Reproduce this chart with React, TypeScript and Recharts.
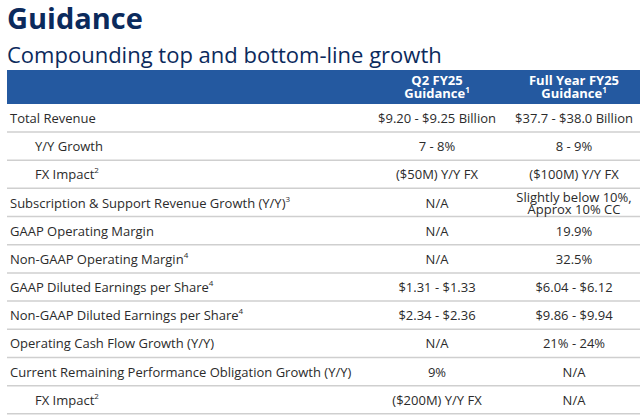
import React from 'react'
import { BarChart, Bar, XAxis, YAxis } from 'recharts'

const rowLabels = [
    'Total Revenue',
    'Y/Y Growth',
    'FX Impact',
    'Subscription & Support Revenue Growth (Y/Y)',
    'GAAP Operating Margin',
    'Non-GAAP Operating Margin',
    'GAAP Diluted Earnings per Share',
    'Non-GAAP Diluted Earnings per Share',
    'Operating Cash Flow Growth (Y/Y)',
    'Current Remaining Performance Obligation Growth (Y/Y)',
    'FX Impact'
]
const rowNotes = ['', '', '2', '3', '', '4', '4', '4', '', '', '2']
const rowIndent = [false, true, true, false, false, false, false, false, false, false, true]
const q2Values = [
    '$9.20 - $9.25 Billion',
    '7 - 8%',
    '($50M) Y/Y FX',
    'N/A',
    'N/A',
    'N/A',
    '$1.31 - $1.33',
    '$2.34 - $2.36',
    'N/A',
    '9%',
    '($200M) Y/Y FX'
]
const fyValues = [
    '$37.7 - $38.0 Billion',
    '8 - 9%',
    '($100M) Y/Y FX',
    'Slightly below 10%,\nApprox 10% CC',
    '19.9%',
    '32.5%',
    '$6.04 - $6.12',
    '$9.86 - $9.94',
    '21% - 24%',
    'N/A',
    'N/A'
]
const columnTitles = [['Q2 FY25', 'Guidance'], ['Full Year FY25', 'Guidance']]

// column widths in px (table spans x = 7 .. 640)
const LABEL_W = 359
const Q2_W = 142
const FY_W = 132

const FONT = '"Open Sans", sans-serif'
const TEXT = '#2b2b2b'
const NAVY = '#0b2a5c'
const HEADER_BG = '#2459a0'

const data = rowLabels.map((label, i) => ({
    label,
    note: rowNotes[i],
    indent: rowIndent[i],
    q2: q2Values[i],
    fy: fyValues[i],
    labelCol: LABEL_W,
    q2Col: Q2_W,
    fyCol: FY_W
}))

const makeCell = (kind: 'label' | 'q2' | 'fy') => (props: any) => {
    const { x, y, width, height, payload } = props
    const cy = y + height / 2
    const bottom = y + height
    let text: React.ReactNode = null
    if (kind === 'label') {
        text = (
            <text x={x + (payload.indent ? 28 : 3)} y={cy} dominantBaseline="central"
                fontFamily={FONT} fontSize={13} fill={TEXT}>
                {payload.label}
                {payload.note && <tspan dy={-5} fontSize={8}>{payload.note}</tspan>}
            </text>
        )
    } else {
        const lines: string[] = String(payload[kind]).split('\n')
        const step = 12
        text = (
            <text x={x + width / 2} textAnchor="middle" fontFamily={FONT} fontSize={13} fill={TEXT}>
                {lines.map((ln, k) => (
                    <tspan key={k} x={x + width / 2} y={cy + (k - (lines.length - 1) / 2) * step}
                        dominantBaseline="central">{ln}</tspan>
                ))}
            </text>
        )
    }
    return (
        <g>
            <line x1={x} x2={x + width} y1={bottom} y2={bottom} stroke="#cfcfcf" strokeWidth={1.5} />
            {text}
        </g>
    )
}

export default function App() {
    return (
        <div style={{ position: 'absolute', left: 0, top: 0, width: 640, height: 418, background: '#fff', fontFamily: FONT }}>
            <div style={{ position: 'absolute', left: 7, top: 0, fontSize: 29, lineHeight: '35px', fontWeight: 700, color: NAVY }}>
                Guidance
            </div>
            <div style={{ position: 'absolute', left: 7, top: 40, fontSize: 22, lineHeight: '28px', color: NAVY, whiteSpace: 'nowrap' }}>
                Compounding top and bottom-line growth
            </div>
            <div style={{ position: 'absolute', left: 7, top: 70, width: 633, height: 34, background: HEADER_BG }} />
            {columnTitles.map((t, i) => {
                const left = 7 + LABEL_W + (i === 0 ? 0 : Q2_W)
                const w = i === 0 ? Q2_W : FY_W
                return (
                    <div key={i} style={{
                        position: 'absolute', left, top: 74, width: w, textAlign: 'center',
                        color: '#fff', fontWeight: 700, fontSize: 13, lineHeight: '13px'
                    }}>
                        <div>{t[0]}</div>
                        <div>{t[1]}<span style={{ fontSize: 8, position: 'relative', top: -5 }}>1</span></div>
                    </div>
                )
            })}
            <div style={{ position: 'absolute', left: 0, top: 0 }}>
                <BarChart width={640} height={418} data={data} layout="vertical"
                    margin={{ top: 104, right: 0, bottom: 4, left: 7 }} barCategoryGap={0}>
                    <XAxis type="number" hide domain={[0, LABEL_W + Q2_W + FY_W]} />
                    <YAxis type="category" dataKey="label" hide />
                    <Bar dataKey="labelCol" stackId="row" fill="none" isAnimationActive={false} shape={makeCell('label')} />
                    <Bar dataKey="q2Col" stackId="row" fill="none" isAnimationActive={false} shape={makeCell('q2')} />
                    <Bar dataKey="fyCol" stackId="row" fill="none" isAnimationActive={false} shape={makeCell('fy')} />
                </BarChart>
            </div>
        </div>
    )
}
